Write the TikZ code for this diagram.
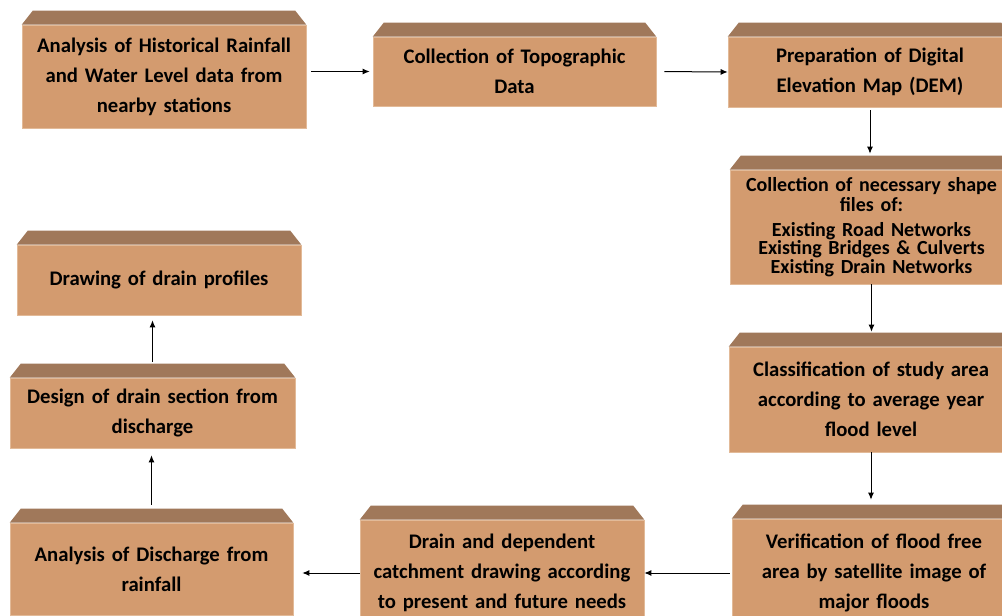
\documentclass[tikz,border=0pt]{standalone}
\usepackage{fontspec}
\setmainfont{Carlito}
\usetikzlibrary{arrows.meta,calc}
\definecolor{facec}{HTML}{D39B6F}
\definecolor{topc}{HTML}{A0785A}
\definecolor{edgec}{HTML}{E2BA98}
\newcommand{\tightlines}{\lineskiplimit=-30pt\relax\lineskip=0pt\relax}
\tikzset{
  fbox/.style={fill=facec, draw=edgec, line width=0.6pt, inner sep=0pt, align=center,
    text width=270pt, font=\bfseries\fontsize{20.7}{30}\selectfont},
  tight/.style={font=\bfseries\fontsize{20}{18.5}\selectfont\tightlines},
  arr/.style={draw=black, line width=1pt, -{Latex[length=7pt,width=6pt]}},
}
\newcommand{\pbox}[7][]{%
  \node[fbox, #1, minimum width={(#4-#3)*1pt}, minimum height={(#6-#5)*1pt}] (#2) at ({(#3+#4)/2},{(#5+#6)/2}) {#7};
  \fill[topc] (#2.north west) -- ++(11,-14) -- ($(#2.north east)+(-11,-14)$) -- (#2.north east) -- cycle;
  \coordinate (#2-top) at ($(#2.north)+(0,-14)$);
}
\begin{document}
\begin{tikzpicture}[x=1pt,y=-1pt]
\useasboundingbox (0,0) rectangle (1002,616);
\clip (0,0) rectangle (1002,616);
\pbox{b1}{22}{306}{25}{128}{Analysis of Historical Rainfall\\and Water Level data from\\nearby stations}
\pbox{b2}{373}{656}{37}{106}{Collection of Topographic\\Data}
\pbox{b3}{728}{1012}{37}{107}{Preparation of Digital\\Elevation Map (DEM)}
\pbox[tight]{b4}{730}{1013}{170}{284}{Collection of necessary shape\\[1.5pt]files of:\\[6pt]Existing Road Networks\\Existing Bridges \& Culverts\\Existing Drain Networks}
\pbox{b5}{729}{1013}{347}{452}{Classification of study area\\according to average year\\flood level}
\pbox{b6}{732}{1016}{519}{627}{Verification of flood free\\area by satellite image of\\major floods}
\pbox{b7}{360}{644}{520}{626}{Drain and dependent\\catchment drawing according\\to present and future needs}
\pbox{b8}{10}{293}{523}{615}{Analysis of Discharge from\\rainfall}
\pbox{b9}{10}{295}{378}{448}{Design of drain section from\\discharge}
\pbox{b10}{17}{301}{245}{315}{Drawing of drain profiles}
\draw[arr, shorten <=5pt, shorten >=3pt] (b1.east |- b2.west) -- (b2.west);
\draw[arr, shorten <=8pt] (b2.east) -- (b3.west);
\draw[arr, shorten <=3pt, shorten >=2pt] (b3.south) -- (b3.south |- b4-top);
\draw[arr, shorten >=1pt] (b4.south) -- (b4.south |- b5-top);
\draw[arr, shorten >=5pt] (b5.south) -- (b5.south |- b6-top);
\draw[arr, shorten <=2pt] (b6.west) -- (b6.west -| b7.east);
\draw[arr, shorten >=9pt] (b7.west) -- (b7.west -| b8.east);
\draw[arr, shorten <=4pt, shorten >=7pt] (b8-top) -- (b8-top |- b9.south);
\draw[arr, shorten <=2pt, shorten >=5pt] (b9-top) -- (b9-top |- b10.south);
\end{tikzpicture}
\end{document}
